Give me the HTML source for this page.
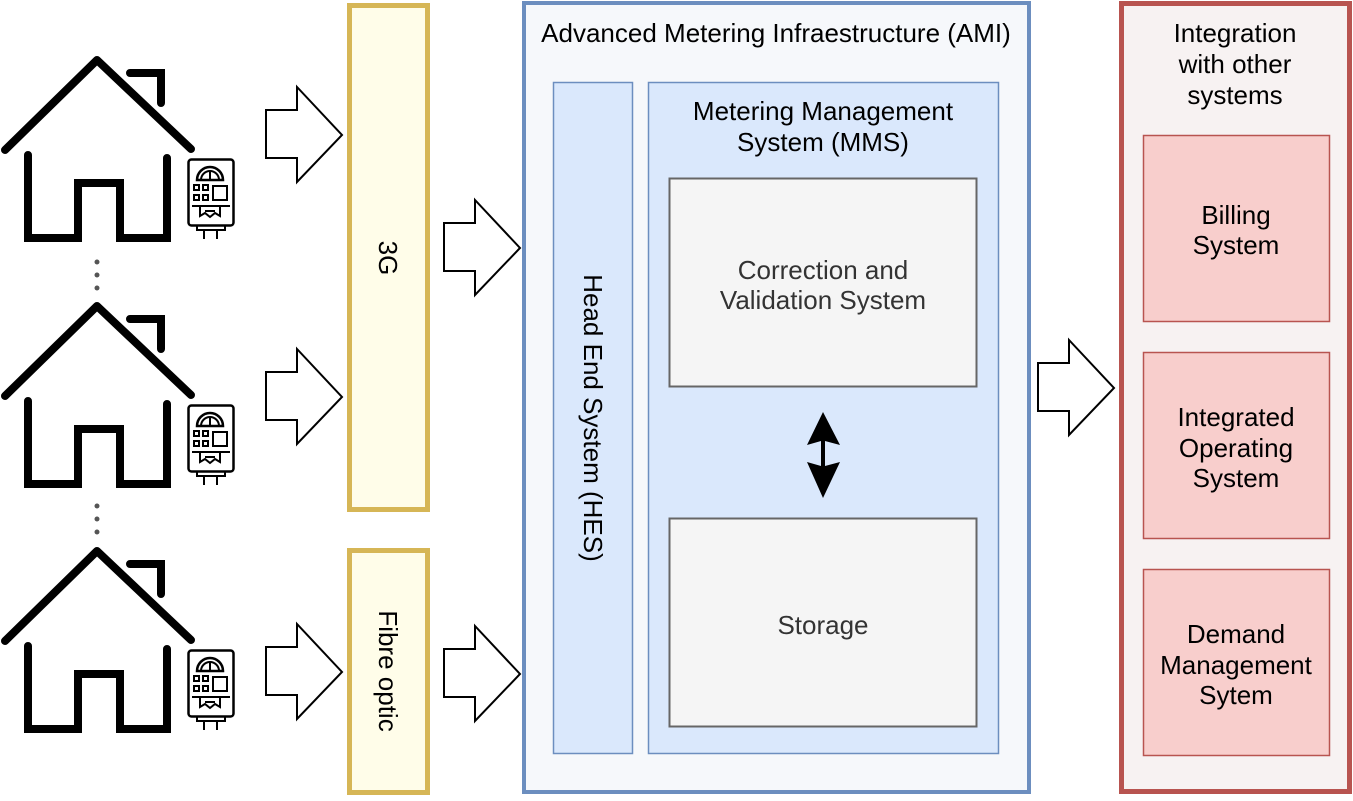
<!DOCTYPE html>
<html><head><meta charset="utf-8"><style>
html,body{margin:0;padding:0;background:#fff;}
svg text{font-family:"Liberation Sans",Arial,sans-serif;font-size:26px;}
</style></head><body>
<svg width="1353" height="796" viewBox="0 0 1353 796" xmlns="http://www.w3.org/2000/svg">
<defs>
<g id="house">
  <polyline points="5,150 97,60 191,149" fill="none" stroke="#000" stroke-width="8" stroke-linecap="round" stroke-linejoin="round"/>
  <polyline points="130,73 161,73 161,103" fill="none" stroke="#000" stroke-width="8" stroke-linecap="round"/>
  <polyline points="28,155 28,238 78,238 78,183 120,183 120,238 167,238 167,158" fill="none" stroke="#000" stroke-width="8" stroke-linecap="round"/>
  <rect x="188.5" y="159.5" width="45" height="66" rx="3" fill="#fff" stroke="#000" stroke-width="2.5"/>
  <path d="M197,180 A13,13 0 0 1 223,180 Z" fill="none" stroke="#000" stroke-width="2.5"/>
  <path d="M201,180 A9,9 0 0 1 219,180" fill="none" stroke="#000" stroke-width="2"/>
  <line x1="210" y1="172" x2="210" y2="180" stroke="#000" stroke-width="2"/>
  <rect x="194" y="185" width="5" height="5" fill="none" stroke="#000" stroke-width="2"/>
  <rect x="203" y="185" width="5" height="5" fill="none" stroke="#000" stroke-width="2"/>
  <rect x="194" y="195" width="5" height="5" fill="none" stroke="#000" stroke-width="2"/>
  <rect x="203" y="195" width="5" height="5" fill="none" stroke="#000" stroke-width="2"/>
  <rect x="213" y="186" width="14" height="14" fill="none" stroke="#000" stroke-width="2"/>
  <line x1="192" y1="206" x2="230" y2="206" stroke="#000" stroke-width="2"/>
  <path d="M200,206 V216 L205,213 L210,217 L215,213 L220,216 V206" fill="none" stroke="#000" stroke-width="2"/>
  <line x1="205" y1="211" x2="215" y2="211" stroke="#000" stroke-width="2"/>
  <path d="M197,226 V230 H225 V226" fill="none" stroke="#000" stroke-width="2"/>
  <line x1="204" y1="230" x2="204" y2="239" stroke="#000" stroke-width="2"/>
  <line x1="217" y1="230" x2="217" y2="239" stroke="#000" stroke-width="2"/>
</g>
<path id="arr" d="M0,23 H31 V0 L76,48 L31,95 V71 H0 Z" fill="#fff" stroke="#000" stroke-width="2" stroke-linejoin="miter"/>
</defs>

<use href="#house" x="0" y="0"/>
<use href="#house" x="0" y="246"/>
<use href="#house" x="0" y="491"/>
<g fill="#555">
<circle cx="97" cy="262" r="2.5"/><circle cx="97" cy="275" r="2.5"/><circle cx="97" cy="288" r="2.5"/>
<circle cx="97" cy="506" r="2.5"/><circle cx="97" cy="519" r="2.5"/><circle cx="97" cy="532" r="2.5"/>
</g>

<use href="#arr" x="266" y="87"/>
<use href="#arr" x="266" y="349"/>
<use href="#arr" x="266" y="624"/>
<use href="#arr" x="444" y="200"/>
<use href="#arr" x="444" y="626"/>
<use href="#arr" x="1038" y="340"/>

<rect x="349.5" y="5.5" width="78" height="504" fill="#fffde9" stroke="#d6b656" stroke-width="5"/>
<text transform="translate(379,258) rotate(90)" text-anchor="middle" fill="#000">3G</text>
<rect x="349.5" y="550.5" width="78" height="242" fill="#fffde9" stroke="#d6b656" stroke-width="5"/>
<text transform="translate(379,671) rotate(90)" text-anchor="middle" fill="#000">Fibre optic</text>

<rect x="524" y="3" width="505" height="789" fill="#f6f8fb" stroke="#6c8ebf" stroke-width="4"/>
<text x="776" y="42" text-anchor="middle">Advanced Metering Infraestructure (AMI)</text>
<rect x="553.5" y="82.5" width="79" height="671" fill="#dae8fc" stroke="#6c8ebf" stroke-width="1.5"/>
<text transform="translate(584,418) rotate(90)" text-anchor="middle">Head End System (HES)</text>
<rect x="648.5" y="82.5" width="350" height="671" fill="#dae8fc" stroke="#6c8ebf" stroke-width="1.5"/>
<text x="823" y="120" text-anchor="middle">Metering Management</text>
<text x="823" y="151" text-anchor="middle">System (MMS)</text>
<rect x="669.5" y="178.5" width="307" height="208" fill="#f5f5f5" stroke="#666" stroke-width="2"/>
<text x="823" y="279" text-anchor="middle" fill="#333">Correction and</text>
<text x="823" y="309" text-anchor="middle" fill="#333">Validation System</text>
<rect x="669.5" y="518.5" width="307" height="208" fill="#f5f5f5" stroke="#666" stroke-width="2"/>
<text x="823" y="634" text-anchor="middle" fill="#333">Storage</text>
<path d="M823,412 L840,445 L825,441 V466 L840,462 L823,498 L807,462 L821,466 V441 L807,445 Z" fill="#000"/>

<rect x="1121.5" y="3.5" width="228" height="788" fill="#f7f2f2" stroke="#b85450" stroke-width="5"/>
<text x="1235" y="42" text-anchor="middle">Integration</text>
<text x="1235" y="73" text-anchor="middle">with other</text>
<text x="1235" y="104" text-anchor="middle">systems</text>
<rect x="1143.5" y="135.5" width="186" height="186" fill="#f8cecc" stroke="#b85450" stroke-width="1.5"/>
<text x="1236" y="224" text-anchor="middle">Billing</text>
<text x="1236" y="254" text-anchor="middle">System</text>
<rect x="1143.5" y="352.5" width="186" height="186" fill="#f8cecc" stroke="#b85450" stroke-width="1.5"/>
<text x="1236" y="426" text-anchor="middle">Integrated</text>
<text x="1236" y="457" text-anchor="middle">Operating</text>
<text x="1236" y="487" text-anchor="middle">System</text>
<rect x="1143.5" y="569.5" width="186" height="186" fill="#f8cecc" stroke="#b85450" stroke-width="1.5"/>
<text x="1236" y="643" text-anchor="middle">Demand</text>
<text x="1236" y="674" text-anchor="middle">Management</text>
<text x="1236" y="704" text-anchor="middle">Sytem</text>
</svg>
</body></html>
